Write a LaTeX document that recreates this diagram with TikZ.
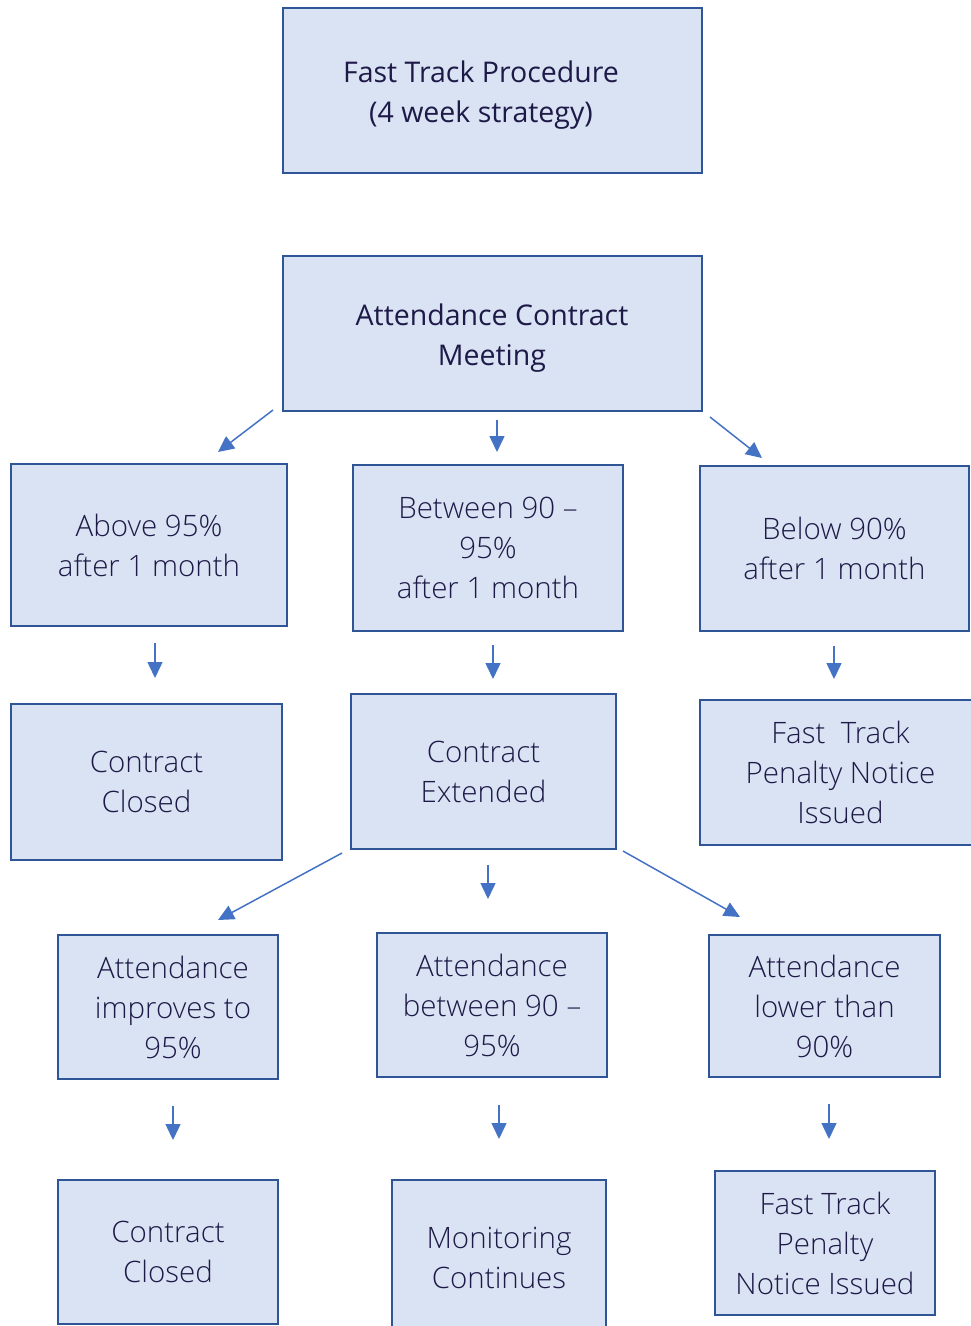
\documentclass[tikz,border=0pt]{standalone}
\usepackage{fontspec}
\setmainfont{Open Sans}
\newfontfamily\lightfont[Ligatures=TeX]{Open Sans Light}
\usetikzlibrary{arrows.meta}
\definecolor{boxfill}{HTML}{DAE3F3}
\definecolor{boxline}{HTML}{2F5597}
\definecolor{arrowc}{HTML}{4472C4}
\definecolor{textc}{HTML}{1E1A48}
\tikzset{
  box/.style={draw=boxline, fill=boxfill, line width=2.5pt, align=center,
    text=textc, inner sep=0pt, font=\lightfont\fontsize{29.5}{40}\selectfont},
  heading/.style={align=center, text=textc, inner sep=0pt,
    font=\fontsize{28.5}{40}\selectfont},
  flow/.style={draw=arrowc, line width=1.5pt,
    -{Triangle[width=15pt,length=16pt]}}
}
\begin{document}
\begin{tikzpicture}[x=1pt,y=-1pt]
\useasboundingbox (0,0) rectangle (971,1326);

% boxes, placed by centre
\node[box, minimum width=419, minimum height=165] (title) at (492.5,90.5) {};
\node[heading] (titletext) at (481,95) {Fast Track Procedure\\(4 week strategy)};
\node[box, minimum width=419, minimum height=155] (meet) at (492.5,333.5) {};
\node[heading] (meettext) at (492,338) {Attendance Contract\\Meeting};
\node[box, minimum width=276, minimum height=162] (above) at (149,545)
  {Above 95\%\\after 1 month};
\node[box, minimum width=270, minimum height=166] (between) at (488,548)
  {Between 90 --\\95\%\\after 1 month};
\node[box, minimum width=269, minimum height=165] (below) at (834.5,548.5)
  {Below 90\%\\after 1 month};
\node[box, minimum width=271, minimum height=156] (closedA) at (146.5,782)
  {Contract\\Closed};
\node[box, minimum width=265, minimum height=155] (ext) at (483.5,771.5)
  {Contract\\Extended};
\node[box, minimum width=281, minimum height=145] (penaltyA) at (840.5,772.5)
  {Fast\ \ Track\\Penalty Notice\\Issued};
\node[box, minimum width=220, minimum height=144] (improves) at (168,1007)
  {\hspace*{10pt}Attendance\\\hspace*{10pt}improves to\\\hspace*{10pt}95\%};
\node[box, minimum width=230, minimum height=144] (mid) at (492,1005)
  {Attendance\\between 90 --\\95\%};
\node[box, minimum width=231, minimum height=142] (lower) at (824.5,1006)
  {Attendance\\lower than\\90\%};
\node[box, minimum width=220, minimum height=144] (closedB) at (168,1252)
  {Contract\\Closed};
\node[box, minimum width=214, minimum height=155] (monitor) at (499,1257.5)
  {Monitoring\\Continues};
\node[box, minimum width=220, minimum height=144] (penaltyB) at (825,1243)
  {Fast Track\\Penalty\\Notice Issued};

% free-standing arrow ends
\coordinate (m1) at (273,410);  \coordinate (m1e) at (218,452);
\coordinate (m2) at (497,420);  \coordinate (m2e) at (497,452);
\coordinate (m3) at (710,417);  \coordinate (m3e) at (762,458);
\coordinate (a1) at (155,643);  \coordinate (a1e) at (155,678);
\coordinate (b1) at (493,645);  \coordinate (b1e) at (493,679);
\coordinate (c1) at (834,646);  \coordinate (c1e) at (834,679);
\coordinate (e1) at (342,853);  \coordinate (e1e) at (218,920);
\coordinate (e2) at (488,865);  \coordinate (e2e) at (488,899);
\coordinate (e3) at (623,851);  \coordinate (e3e) at (740,917);
\coordinate (i1) at (173,1106); \coordinate (i1e) at (173,1140);
\coordinate (j1) at (499,1105); \coordinate (j1e) at (499,1139);
\coordinate (k1) at (829,1104); \coordinate (k1e) at (829,1139);

\draw[flow] (m1) -- (m1e);
\draw[flow] (m2) -- (m2e);
\draw[flow] (m3) -- (m3e);
\draw[flow] (a1) -- (a1e);
\draw[flow] (b1) -- (b1e);
\draw[flow] (c1) -- (c1e);
\draw[flow] (e1) -- (e1e);
\draw[flow] (e2) -- (e2e);
\draw[flow] (e3) -- (e3e);
\draw[flow] (i1) -- (i1e);
\draw[flow] (j1) -- (j1e);
\draw[flow] (k1) -- (k1e);
\end{tikzpicture}
\end{document}
